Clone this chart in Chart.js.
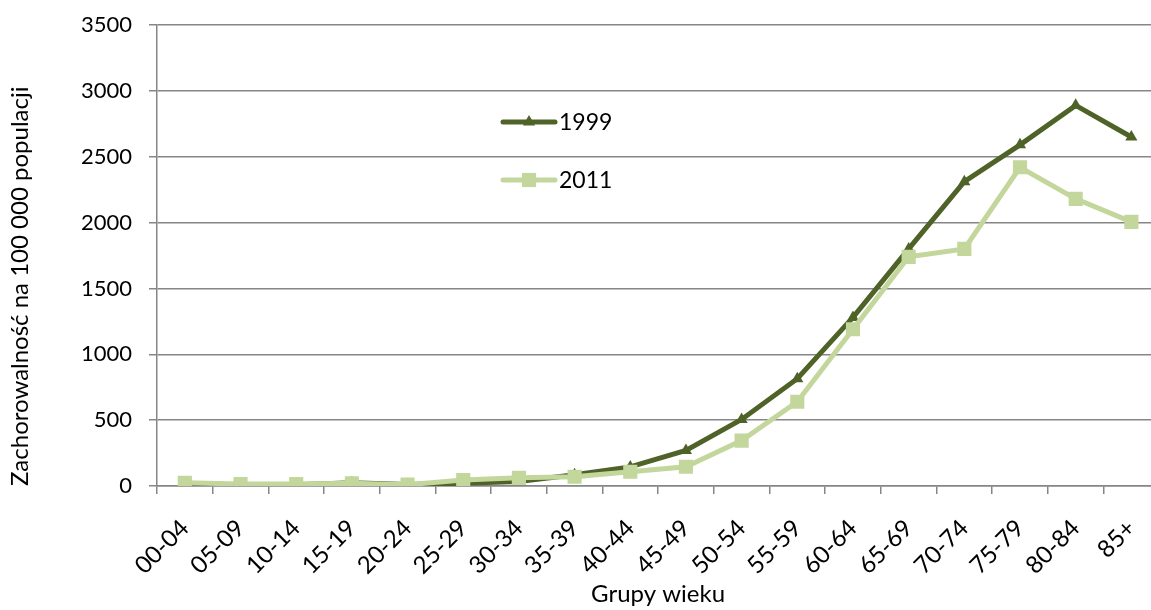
<!DOCTYPE html>
<html>
<head>
<meta charset="utf-8">
<script src="https://cdn.jsdelivr.net/npm/chart.js@4/dist/chart.umd.min.js"></script>
<style>
    html, body { margin: 0; padding: 0; background: #fff; overflow: hidden; }
    #wrap { position: relative; width: 1172px; height: 610px; }
</style>
</head>
<body>
<div id="wrap"><canvas id="chart"></canvas></div>
<script>
// Grupy wieku
const ageGroups = ['00-04', '05-09', '10-14', '15-19', '20-24', '25-29', '30-34', '35-39', '40-44',
    '45-49', '50-54', '55-59', '60-64', '65-69', '70-74', '75-79', '80-84', '85+'];

// Zachorowalność na 100 000 populacji
const rates1999 = [10, 8, 10, 25, 12, 20, 35, 85, 145, 270, 505, 815, 1280, 1800, 2310, 2590, 2890, 2650];
const rates2011 = [25, 15, 15, 20, 10, 45, 62, 70, 108, 146, 345, 640, 1190, 1740, 1800, 2420, 2180, 2005];

const yTicks = [0, 500, 1000, 1500, 2000, 2500, 3000, 3500];

const dark = '#4F6228';
const light = '#C3D69B';
const axisGray = '#868686';
const fontFamily = 'Lato, "Open Sans", sans-serif';

// Legenda rysowana wewnątrz obszaru wykresu
const insideLegend = {
    id: 'insideLegend',
    afterDraw(chart) {
        const ctx = chart.ctx;
        const items = [
            { label: '1999', color: dark, style: 'triangle', radius: 7, y: 122 },
            { label: '2011', color: light, style: 'rect', radius: 10, y: 180 }
        ];
        ctx.save();
        items.forEach(item => {
            ctx.strokeStyle = item.color;
            ctx.lineWidth = 5;
            ctx.lineCap = 'round';
            ctx.beginPath();
            ctx.moveTo(503, item.y);
            ctx.lineTo(555, item.y);
            ctx.stroke();
            ctx.fillStyle = item.color;
            Chart.helpers.drawPoint(ctx, { pointStyle: item.style, radius: item.radius, borderWidth: 0 }, 529, item.y);
            ctx.fillStyle = '#000';
            ctx.font = '23px ' + fontFamily;
            ctx.textBaseline = 'middle';
            ctx.textAlign = 'left';
            ctx.fillText(item.label, 559, item.y + 1);
        });
        ctx.restore();
    }
};

const ctx = document.getElementById('chart').getContext('2d');
new Chart(ctx, {
    type: 'line',
    data: {
        labels: ageGroups,
        datasets: [
            {
                label: '1999',
                data: rates1999,
                borderColor: dark,
                backgroundColor: dark,
                borderWidth: 5,
                pointStyle: 'triangle',
                pointRadius: 7,
                pointBorderWidth: 0,
                tension: 0,
                fill: false,
                order: 1
            },
            {
                label: '2011',
                data: rates2011,
                borderColor: light,
                backgroundColor: light,
                borderWidth: 5,
                pointStyle: 'rect',
                pointRadius: 10,
                pointBorderWidth: 0,
                tension: 0,
                fill: false,
                order: 0
            }
        ]
    },
    options: {
        responsive: true,
        maintainAspectRatio: false,
        animation: false,
        layout: { padding: { top: 25, right: 0, left: 0, bottom: 0 } },
        plugins: {
            legend: { display: false },
            tooltip: { enabled: false }
        },
        scales: {
            x: {
                offset: true,
                afterFit: (scale) => { scale.height = 124; },
                grid: {
                    offset: true,
                    drawOnChartArea: false,
                    color: axisGray,
                    tickLength: 8,
                    lineWidth: 1.5
                },
                border: { color: axisGray, width: 1.5 },
                ticks: {
                    color: '#000',
                    font: { family: fontFamily, size: 24 },
                    maxRotation: 45,
                    minRotation: 45,
                    autoSkip: false,
                    padding: 20
                },
                title: {
                    display: true,
                    text: 'Grupy wieku',
                    color: '#000',
                    font: { family: fontFamily, size: 24 },
                    padding: { top: 0, bottom: 1 }
                }
            },
            y: {
                min: 0,
                max: 3500,
                afterFit: (scale) => {
                    scale.width = 157;
                    scale.paddingTop = 0;
                    scale.paddingBottom = 0;
                },
                afterBuildTicks: (scale) => { scale.ticks = yTicks.map(v => ({ value: v })); },
                grid: {
                    color: axisGray,
                    tickLength: 8,
                    lineWidth: 1.5
                },
                border: { color: axisGray, width: 1.5 },
                ticks: {
                    color: '#000',
                    font: { family: fontFamily, size: 22 },
                    padding: 17,
                    callback: (value) => String(value)
                },
                title: {
                    display: true,
                    text: 'Zachorowalność na 100 000 populacji',
                    align: 'start',
                    color: '#000',
                    font: { family: fontFamily, size: 24 },
                    padding: { top: 6, bottom: 0 }
                }
            }
        }
    },
    plugins: [insideLegend]
});
</script>
</body>
</html>
